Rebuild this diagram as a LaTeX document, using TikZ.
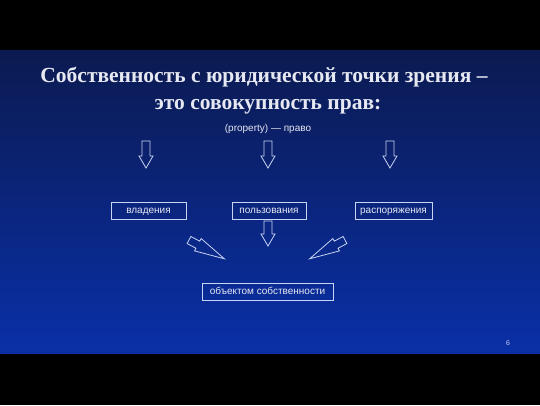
\documentclass[tikz,border=0pt]{standalone}
\usepackage{fontspec}
\setmainfont{Liberation Serif}
\setsansfont{Liberation Sans}
\definecolor{bgtop}{HTML}{0B1A50}
\definecolor{bgbot}{HTML}{0A30A8}
\definecolor{fg}{HTML}{E6E8F2}
\definecolor{edge}{HTML}{C8D4F4}
\newcommand{\blkarrow}[6]{% x, y, angle, total length, head length, name
  \begin{scope}[shift={(#1,#2)}, rotate=#3]
    \draw[arr] (-4,0) -- (4,0) -- (4,#4-#5) -- (7,#4-#5) -- (0,#4) -- (-7,#4-#5) -- (-4,#4-#5) -- cycle;
    \coordinate (#6) at (0,#4);
  \end{scope}}
\begin{document}
\begin{tikzpicture}[x=1pt,y=-1pt,
  box/.style={draw=edge, line width=0.8pt, font=\sffamily\fontsize{10}{11}\selectfont, text=fg, inner sep=0pt, minimum height=17pt, text height=6.5pt, text depth=1.5pt},
  ttl/.style={text=fg, font=\bfseries\fontsize{21.5}{27}\selectfont, anchor=base, inner sep=0pt},
  arr/.style={draw=edge, line width=0.8pt, line join=miter}]
\fill[black] (0,0) rectangle (540,405);
\shade[top color=bgtop, bottom color=bgbot] (0,50) rectangle (540,353);
\useasboundingbox (0,0) rectangle (540,405);
\node[ttl] (title1) at (264,82) {Собственность с юридической точки зрения –};
\node[ttl] (title2) at (268,109) {это совокупность прав:};
\node[text=fg, font=\sffamily\fontsize{10}{11}\selectfont] (prop) at (268,129) {(property) — право};
\blkarrow{146}{141}{0}{27}{12}{a1}
\blkarrow{268}{141}{0}{27}{12}{a2}
\blkarrow{390}{141}{0}{27}{12}{a3}
\node[box, minimum width=75pt] (v) at (148.5,210.5) {владения};
\node[box, minimum width=74pt] (p) at (269,210.5) {пользования};
\node[box, minimum width=77pt] (r) at (393.5,210.5) {распоряжения};
\blkarrow{268}{221}{0}{25}{12}{a4}
\blkarrow{189}{240}{62}{40}{30}{a5}
\blkarrow{345}{240}{-62}{40}{30}{a6}
\node[box, minimum width=131pt] (o) at (267.5,291.5) {объектом собственности};
\node[text=edge, font=\sffamily\fontsize{7}{8}\selectfont] (num) at (508,343) {6};
\end{tikzpicture}
\end{document}
